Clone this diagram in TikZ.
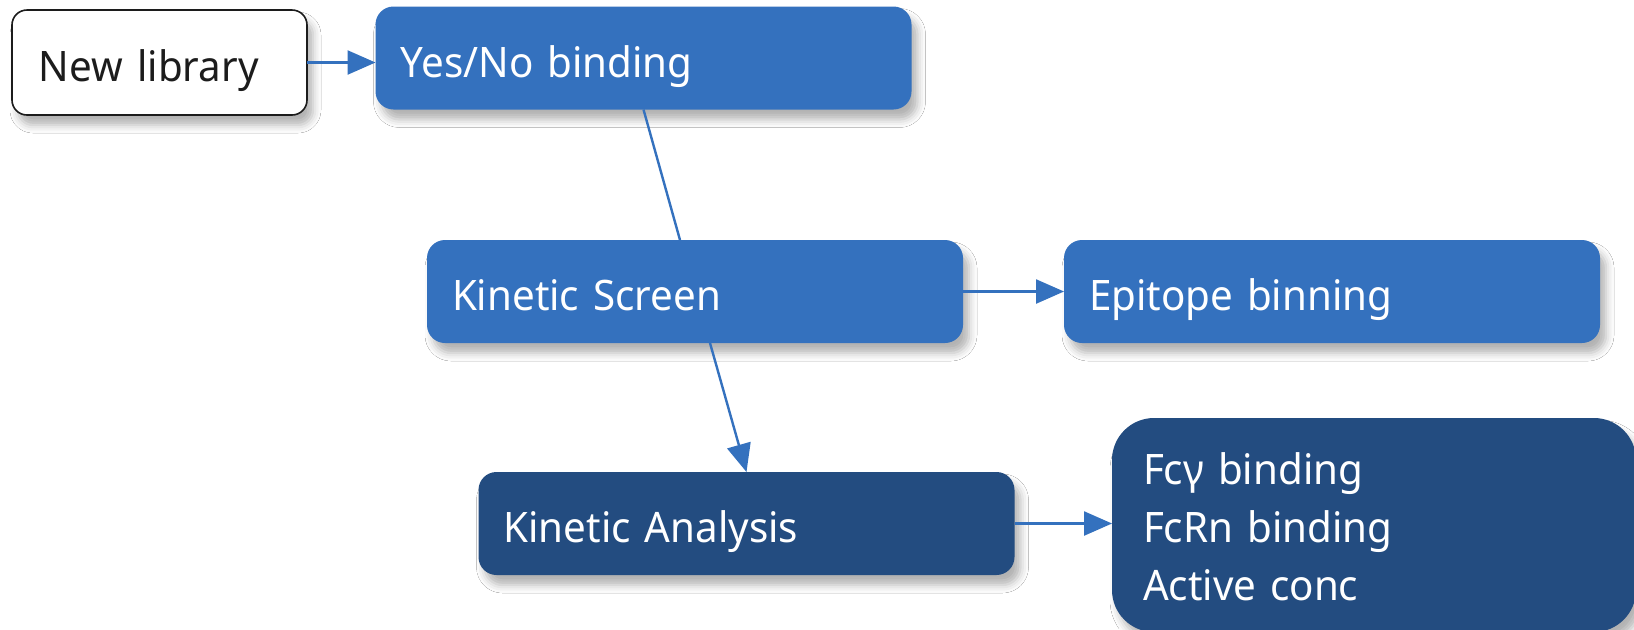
\documentclass[tikz,border=0pt]{standalone}
\usepackage{fontspec}
\setmainfont[FakeStretch=0.96]{Noto Sans}
\usepackage{tikz}
\usetikzlibrary{calc}
\usetikzlibrary{shapes}
\usetikzlibrary{arrows.meta}
\usetikzlibrary{shadows.blur}
\definecolor{stepblue}{RGB}{52,113,190}
\definecolor{stepnavy}{RGB}{35,76,128}
\definecolor{inkgray}{RGB}{28,28,28}
\tikzset{
  boxshade/.style={blur shadow={shadow xshift=3pt, shadow yshift=-5pt, shadow blur radius=4pt, shadow opacity=30}},
  stepbox/.style={boxshade, rectangle, rounded corners=9pt, fill=#1, text=white, inner xsep=12.5pt, inner ysep=0pt, outer sep=0pt, text width=243pt, minimum height=51.5pt, text height=20pt, text depth=1pt, align=left, font=\fontsize{21}{29}\selectfont},
  flow/.style={-{Triangle[length=14pt,width=12pt]}, line width=1.2pt, draw=stepblue, fill=stepblue}
}
\newcommand{\stepnode}[5]{\node[stepbox=#4] (#1) at ( #2 , #3 ) {#5};}

\begin{document}
\begin{tikzpicture}[x=0.5pt,y=-0.5pt]
        \path[use as bounding box, fill=white] (0,0) rectangle (1634,629);
        % start
        \node[boxshade, rectangle, rounded corners=7.5pt, draw=inkgray, line width=0.8pt, fill=white, text=inkgray, inner xsep=13.5pt, inner ysep=0pt, outer sep=0pt, text width=120.5pt, minimum height=52.5pt, text height=20pt, text depth=1pt, align=left, font=\fontsize{21}{29}\selectfont] (newlib) at (159.5,62.5) {New library};
        % screening steps
        \stepnode{yesno}{643.5}{58}{stepblue}{Yes/No binding}
        \stepnode{kscreen}{695}{291.5}{stepblue}{Kinetic Screen}
        \stepnode{epitope}{1332}{291.5}{stepblue}{Epitope binning}
        \stepnode{kanalysis}{746.5}{523.5}{stepnavy}{Kinetic Analysis}
        % follow-up assays
        \node[boxshade, rectangle, rounded corners=21pt, fill=stepnavy, text=white, inner xsep=15.5pt, inner ysep=0pt, outer sep=0pt, text width=231pt, minimum height=107pt, align=left, font=\fontsize{21}{29}\selectfont] (fcbox) at (1374,525) {\rule{0pt}{17.5pt}Fcγ binding\\FcRn binding\\Active conc};
        % connectors
        \draw[flow] (newlib.east) -- (newlib.east -| yesno.west);
        \draw[line width=1.2pt, stepblue] (yesno.south) -- ($(kscreen.north)+(-15,0)$);
        \draw[flow] (kscreen.east) -- (epitope.west);
        \draw[flow] ($(kscreen.south)+(15,0)$) -- (kanalysis.north);
        \draw[flow] (kanalysis.east) -- (kanalysis.east -| fcbox.west);
\end{tikzpicture}
\end{document}
